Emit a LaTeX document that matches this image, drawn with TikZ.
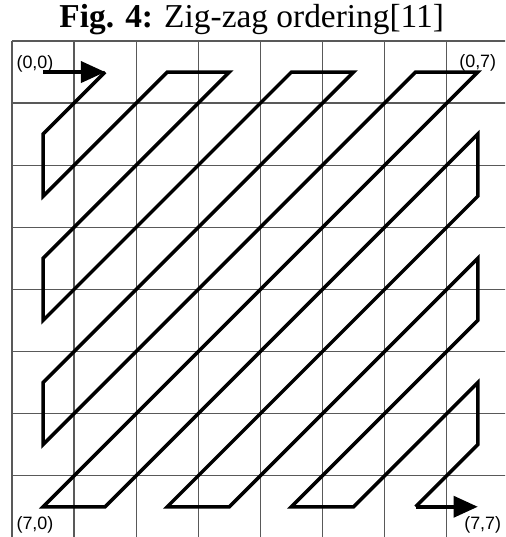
\documentclass[tikz,border=0pt]{standalone}
\usepackage{fontspec}
\setmainfont{Liberation Serif}
\newfontfamily\labelfont{Liberation Sans}
\usetikzlibrary{arrows.meta}

\begin{document}
\begin{tikzpicture}[x=1cm, y=1cm,
    gridline/.style={draw=black!65, line width=0.55pt},
    zigzag/.style={draw=black, line width=1.6pt},
    zigarrow/.style={zigzag, -{Triangle[length=0.39cm, width=0.34cm]}},
    corner/.style={font=\labelfont\fontsize{8.2}{9}\selectfont, inner sep=0pt}]
    % page frame
    \useasboundingbox (-0.193,-7.987) rectangle (7.939,0.66);
    \clip (-0.193,-7.987) rectangle (7.939,0.66);
    % Title
    \node[anchor=base, inner sep=0pt, font=\fontsize{15.3}{17}\selectfont] (title) at (3.86,0.21) {\textbf{Fig. 4:} Zig-zag ordering[11]};
    % Grid
    \foreach \k in {0,...,8} {
        \draw[gridline] (\k,0) -- (\k,-8);
        \draw[gridline] (0,-\k) -- (8,-\k);
    }
    % Cell centres
    \foreach \r in {0,...,7} {
        \foreach \c in {0,...,7} {
            \coordinate (p-\r-\c) at (\c+0.5,-\r-0.5);
        }
    }
    % Corner labels
    \node[corner] (lab00) at (0.37,-0.37) {(0,0)};
    \node[corner] (lab07) at (7.50,-0.35) {(0,7)};
    \node[corner] (lab70) at (0.37,-7.79) {(7,0)};
    \node[corner] (lab77) at (7.58,-7.79) {(7,7)};
    % Zig-zag scan
    \draw[zigarrow] (p-0-0) -- (p-0-1);
    \draw[zigzag] (p-0-1) -- (p-1-0) -- (p-2-0) -- (p-0-2) -- (p-0-3) -- (p-3-0) -- (p-4-0) -- (p-0-4)
        -- (p-0-5) -- (p-5-0) -- (p-6-0) -- (p-0-6) -- (p-0-7) -- (p-7-0) -- (p-7-1) -- (p-1-7)
        -- (p-2-7) -- (p-7-2) -- (p-7-3) -- (p-3-7) -- (p-4-7) -- (p-7-4) -- (p-7-5) -- (p-5-7)
        -- (p-6-7) -- (p-7-6);
    \draw[zigarrow] (p-7-6) -- (p-7-7);
\end{tikzpicture}
\end{document}
